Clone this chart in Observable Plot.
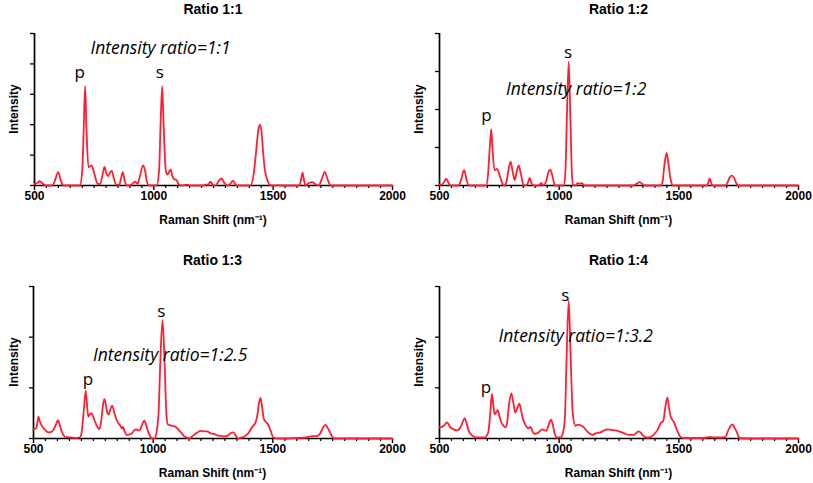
<!DOCTYPE html>
<html>
<head>
<meta charset="utf-8">
<script src="https://cdn.jsdelivr.net/npm/d3@7"></script>
<script src="https://cdn.jsdelivr.net/npm/@observablehq/plot@0.6"></script>
<style>
  body { margin: 0; background: #fff; }
  #root { position: relative; width: 813px; height: 483px; background: #fff; overflow: hidden; }
  #root svg { position: absolute; }
  .lbl { position: absolute; transform: translate(-50%, -50%); white-space: nowrap;
         font-family: "Liberation Sans", Arial, sans-serif; font-weight: bold; color: #000; line-height: 1; }
  .ttl { font-size: 14px; }
  .axl { font-size: 12px; }
  .rot { transform: translate(-50%, -50%) rotate(-90deg); }
</style>
</head>
<body>
<div id="root"></div>
<script>
// ---------- data (Raman shift, intensity in arbitrary units) ----------
const panelTitles = ["Ratio 1:1", "Ratio 1:2", "Ratio 1:3", "Ratio 1:4"];
const ratioTexts = ["Intensity ratio=1:1", "Intensity ratio=1:2", "Intensity ratio=1:2.5", "Intensity ratio=1:3.2"];
const xLabel = "Raman Shift (nm\u207B\u00B9)";
const yLabel = "Intensity";
const xMajorTicks = [500, 1000, 1500, 2000];
const xMinorTicks = d3.range(550, 2000, 50).filter(v => v % 500 !== 0);

const spectrum1 = [
  [500,0.05],[510,0.08],[522,0.14],[535,0.06],[548,0.0],[575,0.0],[585,0.15],[599,0.44],[612,0.12],[622,0.0],
  [690,0.0],[700,0.5],[706,1.8],[712,3.27],[718,1.8],[726,0.6],[739,0.66],[752,0.35],[765,0.05],[775,0.05],
  [785,0.35],[793,0.61],[801,0.4],[809,0.31],[816,0.42],[824,0.48],[832,0.25],[843,0.02],[855,0.02],[863,0.25],
  [870,0.44],[878,0.15],[888,0.0],[905,0.02],[915,0.1],[923,0.13],[932,0.05],[940,0.25],[955,0.66],[963,0.5],
  [972,0.1],[982,0.0],[1012,0.0],[1022,0.5],[1029,2.2],[1035,3.27],[1041,2.0],[1050,0.5],[1058,0.36],[1064,0.45],
  [1070,0.53],[1078,0.3],[1087,0.2],[1095,0.18],[1105,0.03],[1115,0.0],[1140,0.03],[1150,0.0],[1210,0.0],[1220,0.04],
  [1228,0.02],[1237,0.13],[1248,0.02],[1258,0.0],[1270,0.12],[1283,0.23],[1296,0.08],[1307,0.0],[1320,0.05],[1332,0.16],
  [1342,0.03],[1350,0.0],[1405,0.0],[1419,0.42],[1430,1.24],[1437,1.79],[1444,2.0],[1451,1.79],[1458,1.07],[1465,0.53],
  [1475,0.2],[1486,0.02],[1500,0.0],[1520,0.01],[1530,0.0],[1610,0.0],[1617,0.2],[1623,0.42],[1630,0.15],[1636,0.0],
  [1650,0.08],[1663,0.11],[1676,0.05],[1691,0.0],[1703,0.2],[1716,0.45],[1728,0.2],[1741,0.0],[2000,0.0]
];

const spectrum2 = [
  [500,0.02],[512,0.03],[520,0.1],[528,0.18],[537,0.08],[545,0.0],[580,0.0],[590,0.15],[603,0.41],[614,0.12],
  [624,0.0],[695,0.0],[703,0.3],[710,1.0],[716,1.48],[722,0.9],[730,0.4],[740,0.44],[752,0.25],[763,0.05],
  [771,0.0],[780,0.1],[788,0.4],[797,0.63],[806,0.35],[814,0.15],[822,0.35],[831,0.53],[840,0.3],[852,0.0],
  [866,0.02],[872,0.12],[877,0.2],[883,0.08],[893,0.0],[915,0.0],[925,0.07],[933,0.0],[945,0.1],[955,0.35],
  [963,0.42],[972,0.25],[982,0.0],[1020,0.0],[1027,0.5],[1033,2.0],[1040,3.26],[1046,2.0],[1052,0.5],[1058,0.02],
  [1070,0.0],[1076,0.06],[1085,0.05],[1096,0.06],[1105,0.0],[1310,0.0],[1322,0.04],[1336,0.09],[1350,0.03],[1360,0.0],
  [1425,0.0],[1432,0.1],[1440,0.55],[1449,0.86],[1457,0.55],[1466,0.15],[1476,0.0],[1618,0.0],[1624,0.1],[1629,0.19],
  [1634,0.1],[1640,0.0],[1695,0.0],[1705,0.1],[1713,0.22],[1722,0.26],[1731,0.2],[1740,0.06],[1750,0.0],[2000,0.0]
];

const spectrum3 = [
  [500,0.18],[511,0.2],[516,0.3],[521,0.43],[527,0.33],[535,0.25],[548,0.17],[563,0.12],[575,0.13],[584,0.18],
  [594,0.28],[602,0.36],[609,0.28],[616,0.16],[625,0.07],[633,0.03],[654,0.02],[680,0.01],[695,0.03],[702,0.15],
  [710,0.55],[718,0.94],[723,0.7],[729,0.43],[736,0.48],[742,0.5],[750,0.42],[758,0.32],[766,0.24],[775,0.18],
  [783,0.35],[790,0.65],[796,0.78],[803,0.65],[809,0.5],[814,0.47],[820,0.56],[829,0.65],[837,0.52],[846,0.38],
  [855,0.3],[863,0.25],[869,0.2],[874,0.23],[880,0.15],[890,0.07],[900,0.08],[911,0.1],[920,0.16],[930,0.18],
  [937,0.16],[944,0.16],[954,0.28],[963,0.35],[970,0.28],[978,0.15],[987,0.05],[995,0.0],[1005,0.0],[1015,0.15],
  [1023,0.55],[1030,1.53],[1039,2.34],[1047,1.6],[1054,0.61],[1061,0.28],[1072,0.26],[1082,0.25],[1093,0.23],[1101,0.2],
  [1110,0.15],[1120,0.1],[1128,0.05],[1140,0.02],[1149,0.0],[1160,0.03],[1170,0.07],[1185,0.12],[1198,0.15],[1212,0.14],
  [1226,0.14],[1240,0.1],[1254,0.09],[1268,0.06],[1282,0.05],[1296,0.04],[1310,0.05],[1322,0.1],[1335,0.12],[1345,0.06],
  [1355,0.0],[1370,0.02],[1379,0.03],[1390,0.07],[1400,0.12],[1410,0.2],[1418,0.25],[1428,0.32],[1435,0.45],[1442,0.7],
  [1449,0.8],[1455,0.62],[1463,0.38],[1472,0.32],[1480,0.28],[1491,0.15],[1502,0.02],[1520,0.0],[1560,0.0],[1600,0.01],
  [1640,0.02],[1658,0.04],[1686,0.05],[1695,0.08],[1700,0.12],[1710,0.22],[1721,0.27],[1730,0.2],[1742,0.09],[1756,0.0],
  [2000,0.0]
];

const spectrum4 = [
  [500,0.22],[510,0.23],[520,0.26],[531,0.32],[538,0.28],[545,0.22],[560,0.18],[573,0.16],[585,0.2],[595,0.3],
  [605,0.4],[613,0.3],[622,0.15],[632,0.08],[642,0.04],[660,0.02],[691,0.02],[698,0.06],[705,0.15],[712,0.5],
  [719,0.88],[724,0.7],[730,0.48],[737,0.52],[743,0.56],[750,0.45],[758,0.32],[766,0.26],[775,0.22],[782,0.3],
  [790,0.65],[800,0.89],[808,0.72],[817,0.51],[825,0.6],[834,0.69],[841,0.55],[849,0.38],[858,0.28],[866,0.22],
  [873,0.2],[880,0.23],[888,0.15],[896,0.09],[905,0.1],[914,0.12],[922,0.16],[931,0.18],[939,0.16],[946,0.15],
  [956,0.27],[966,0.37],[973,0.28],[980,0.12],[991,0.02],[1005,0.02],[1015,0.1],[1024,0.41],[1031,1.6],[1040,2.72],
  [1048,1.6],[1057,0.48],[1068,0.25],[1076,0.27],[1085,0.27],[1094,0.25],[1103,0.22],[1112,0.17],[1121,0.12],[1130,0.09],
  [1138,0.07],[1152,0.1],[1173,0.12],[1188,0.16],[1201,0.18],[1218,0.17],[1236,0.16],[1250,0.14],[1263,0.12],[1277,0.09],
  [1291,0.07],[1312,0.07],[1322,0.11],[1333,0.14],[1342,0.11],[1350,0.06],[1364,0.02],[1375,0.02],[1389,0.05],[1400,0.1],
  [1410,0.16],[1424,0.3],[1435,0.35],[1443,0.6],[1452,0.81],[1459,0.6],[1466,0.43],[1473,0.37],[1480,0.32],[1487,0.23],
  [1494,0.15],[1507,0.03],[1520,0.01],[1600,0.01],[1620,0.02],[1629,0.03],[1640,0.02],[1680,0.02],[1696,0.03],[1703,0.12],
  [1713,0.22],[1724,0.28],[1732,0.22],[1740,0.15],[1754,0.01],[1770,0.0],[2000,0.0]
];

// y-axis extents (number of tick intervals) per panel
const yMaxes = [5, 4, 3, 3];

// peak labels ("p", "s") and ratio annotation anchors, in data units
const peakLabels = [
  [{t: "p", x: 689, y: 3.73}, {t: "s", x: 1025, y: 3.73}],
  [{t: "p", x: 696, y: 1.85}, {t: "s", x: 1037, y: 3.49}],
  [{t: "p", x: 728, y: 1.16}, {t: "s", x: 1034, y: 2.51}],
  [{t: "p", x: 694, y: 1.01}, {t: "s", x: 1026, y: 2.83}]
];
const ratioAnchors = [
  {x: 1028, y: 4.5}, {x: 1071, y: 2.52}, {x: 1071, y: 1.65}, {x: 1069, y: 2.02}
];

// ---------- layout ----------
const spectra = [spectrum1, spectrum2, spectrum3, spectrum4];
const boxes = [
  {left: 0,   top: 0,   width: 405, height: 242, ml: 34, mr: 13, mt: 33, mb: 57},
  {left: 405, top: 0,   width: 408, height: 242, ml: 34, mr: 15, mt: 33, mb: 57},
  {left: 0,   top: 253, width: 405, height: 230, ml: 33, mr: 13, mt: 33, mb: 45},
  {left: 405, top: 253, width: 408, height: 230, ml: 34, mr: 15, mt: 33, mb: 45}
];
const RED = "#ff1f33";
const root = document.getElementById("root");

function addLabel(text, cx, cy, cls) {
  const d = document.createElement("div");
  d.className = "lbl " + cls;
  d.textContent = text;
  d.style.left = cx + "px";
  d.style.top = cy + "px";
  root.appendChild(d);
}

spectra.forEach((spec, i) => {
  const b = boxes[i];
  const yMax = yMaxes[i];
  const chart = Plot.plot({
    width: b.width, height: b.height,
    marginLeft: b.ml, marginRight: b.mr, marginTop: b.mt, marginBottom: b.mb,
    style: {fontFamily: "'Liberation Sans', Arial, sans-serif", fontSize: "12px", fontWeight: "bold",
            color: "#000", background: "transparent", overflow: "visible"},
    x: {domain: [500, 2000]},
    y: {domain: [0, yMax]},
    marks: [
      Plot.axisY({ticks: d3.range(0, yMax + 1), tickSize: 4, tickFormat: () => "", label: null, strokeWidth: 1.3}),
      Plot.axisX({ticks: xMinorTicks, tickSize: 3, tickFormat: () => "", label: null, strokeWidth: 1.2}),
      Plot.axisX({ticks: xMajorTicks, tickSize: 5, tickPadding: 1, label: null, strokeWidth: 1.4,
                  tickFormat: d => String(d), fontWeight: "bold", fontSize: 12}),
      Plot.ruleX([500], {stroke: "#000", strokeWidth: 1.7}),
      Plot.ruleY([0], {stroke: "#000", strokeWidth: 1.7}),
      Plot.line(spec, {x: d => d[0], y: d => d[1], curve: "monotone-x", stroke: RED, strokeWidth: 1.8}),
      Plot.text(peakLabels[i], {x: "x", y: "y", text: "t", fontFamily: "'Open Sans', sans-serif",
                                fontSize: 17, fontWeight: "normal", fill: "#000"}),
      Plot.text([ratioAnchors[i]], {x: "x", y: "y", text: () => ratioTexts[i], fontFamily: "'Open Sans', sans-serif",
                                    fontSize: 17.5, fontStyle: "italic", fontWeight: "normal", fill: "#000"})
    ]
  });
  chart.style.left = b.left + "px";
  chart.style.top = b.top + "px";
  root.appendChild(chart);

  const cx = b.left + b.ml + (b.width - b.ml - b.mr) / 2;
  const base = b.top + b.height - b.mb;
  addLabel(panelTitles[i], cx, b.top === 0 ? 9 : 260, "ttl");
  addLabel(xLabel, cx, base + 35, "axl");
  addLabel(yLabel, b.left + 14, b.top + b.mt + (b.height - b.mt - b.mb) / 2, "axl rot");
});
</script>
</body>
</html>
